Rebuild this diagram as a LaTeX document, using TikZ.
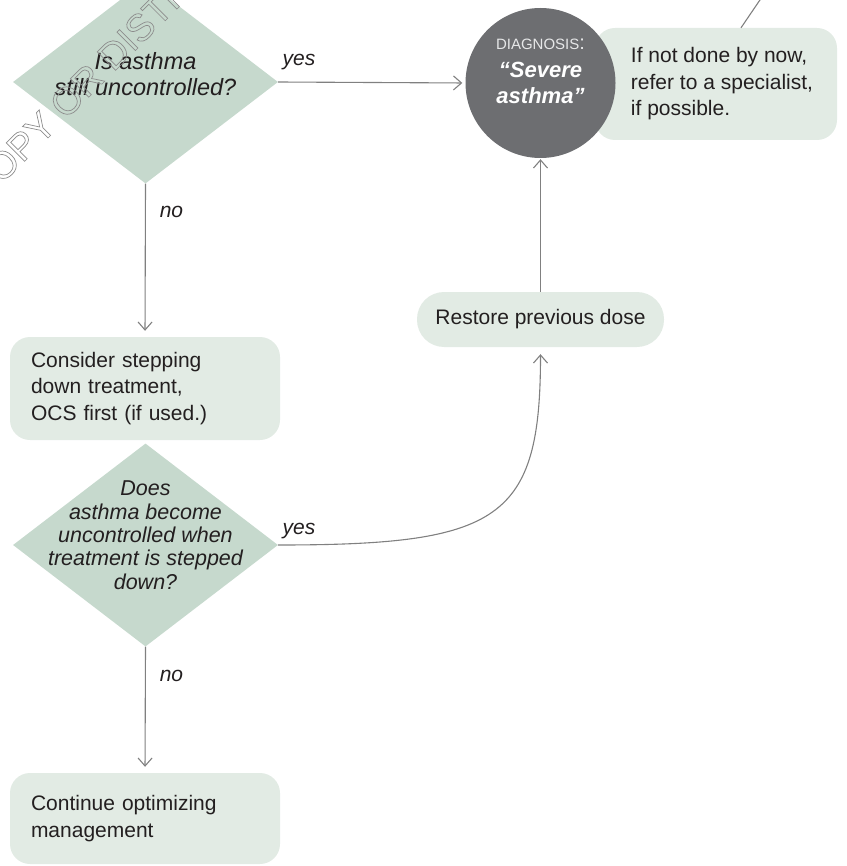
\documentclass[tikz,border=0pt]{standalone}
\usepackage{fontspec}
\setmainfont{Liberation Sans}
\usetikzlibrary{shapes.geometric,arrows.meta}
\definecolor{dia}{HTML}{C6D9CD}
\definecolor{boxc}{HTML}{E2EBE4}
\definecolor{circ}{HTML}{6D6E71}
\definecolor{lnc}{HTML}{808080}
\definecolor{txt}{HTML}{231F20}
\definecolor{wm}{HTML}{8C8C8C}
\definecolor{diag}{HTML}{E6E7E8}
\newcommand\zbox[2]{\makebox[0pt]{\raisebox{#1}[0pt][0pt]{#2}}}
\begin{document}
\begin{tikzpicture}[x=1pt,y=-1pt,
  decision/.style={diamond, fill=dia, minimum width=265pt, minimum height=203pt, inner sep=0pt, text=txt},
  stepbox/.style={rectangle, rounded corners=20pt, fill=boxc, text=txt, font=\fontsize{21}{26.5}\selectfont, inner sep=0pt},
  conn/.style={draw=lnc, line width=1.1pt, -{Straight Barb[length=8pt,width=14pt]}},
  plainline/.style={draw=lnc, line width=1.1pt},
  lbl/.style={text=txt, font=\fontsize{21}{25}\selectfont\itshape, inner sep=0pt}]
\useasboundingbox (0,0) rectangle (846,866);
\clip (0,0) rectangle (846,866);

% decisions
\node (d1) [decision] at (145.5,82) {\zbox{-1.5pt}{\fontsize{23.5}{26}\selectfont\itshape\begin{tabular}{@{}c@{}}Is asthma\\still uncontrolled?\end{tabular}}};
\node (d2) [decision] at (145.5,545) {\zbox{2pt}{\fontsize{21.5}{23.3}\selectfont\itshape\begin{tabular}{@{}c@{}}Does\\asthma become\\uncontrolled when\\treatment is stepped\\down?\end{tabular}}};

% boxes
\node (consider) [stepbox, text width=228pt, align=left, minimum width=270pt, minimum height=103pt] at (145,388.5) {Consider stepping\\down treatment,\\OCS first (if used.)};
\node (cont) [stepbox, text width=228pt, align=left, minimum width=270pt, minimum height=91pt] at (145,818.5) {Continue optimizing\\management};
\node (restore) [stepbox, rounded corners=27pt, minimum width=247pt, minimum height=55pt] at (540.5,319.5) {Restore previous dose};
\node (spec) [stepbox, minimum width=242pt, minimum height=112pt] at (716,84) {\begin{tabular}{@{\hspace{12pt}}l@{}}If not done by now,\\refer to a specialist,\\if possible.\end{tabular}};

% diagnosis circle
\node (dx) [circle, fill=circ, minimum size=150pt, inner sep=0pt] at (540.5,83) {\zbox{6.5pt}{\fontsize{22}{26}\selectfont\begin{tabular}{@{}c@{}}{\color{diag}\fontsize{15}{15}\selectfont DIAGNOSIS\fontsize{20}{20}\selectfont:}\\[2pt]
\color{white}\bfseries\itshape “Severe\\
\color{white}\bfseries\itshape asthma”\end{tabular}}};

% connectors
\draw[conn, shorten >=3pt] (d1.east) -- (dx.west);
\draw[conn, shorten >=6pt] (d1.south) -- (consider.north);
\draw[conn, shorten >=1pt] (restore.north) -- (dx.south);
\draw[conn, shorten >=7pt] (d2.east) .. controls (500,545) and (540.5,520) .. (restore.south);
\draw[conn, shorten >=6pt] (d2.south) -- (cont.north);
\coordinate (topend) at (764,-6);
\draw[plainline] ([xshift=25pt]spec.north) -- (topend);

% labels
\node (yes1) [lbl] at (299,62) {yes};
\node (no1) [lbl] at (171.5,212) {no};
\node (yes2) [lbl] at (299,531) {yes};
\node (no2) [lbl] at (171.5,676) {no};

% watermark
\node (wmark) [rotate=45, anchor=base west, inner sep=0pt, text=wm, font=\fontsize{38}{38}\selectfont] at (-18,204) {\special{pdf:literal direct 1 Tr 0.7 w}COPY OR DISTRIBUTE\special{pdf:literal direct 0 Tr}};
\end{tikzpicture}
\end{document}
